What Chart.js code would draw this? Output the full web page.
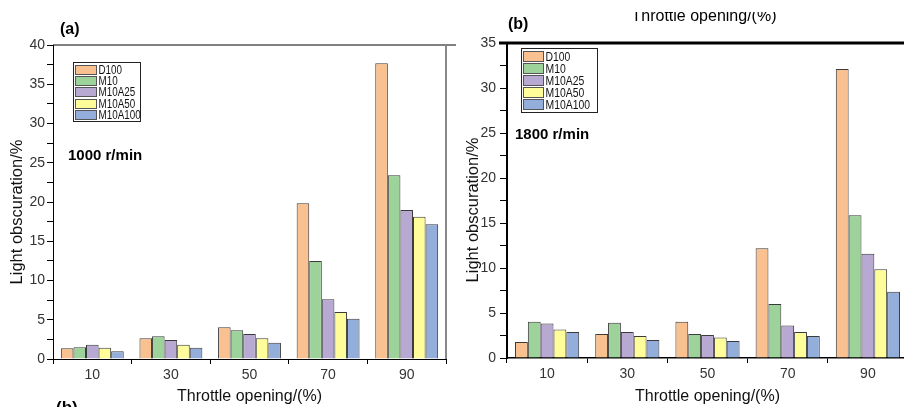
<!DOCTYPE html>
<html><head><meta charset="utf-8">
<script src="https://cdn.jsdelivr.net/npm/chart.js@4/dist/chart.umd.min.js"></script>
<style>
html,body{margin:0;padding:0;background:#fff;overflow:hidden;width:904px;height:407px;}
#ca{position:absolute;left:0;top:0;}
#cb{position:absolute;left:460px;top:0;}
</style></head><body>
<canvas id="ca" width="460" height="407"></canvas>
<canvas id="cb" width="450" height="407"></canvas>
<script>
// ---- data ----
const categories = ['10', '30', '50', '70', '90'];
const seriesNames = ['D100', 'M10', 'M10A25', 'M10A50', 'M10A100'];
const seriesColors = ['#F8C18F', '#9DD39A', '#B8A9D2', '#FEFD99', '#93AEDA'];
// (a) 1000 r/min
const d100_1000    = [1.36, 2.63, 4.03, 19.83, 37.66];
const m10_1000     = [1.49, 2.89, 3.65, 12.48, 23.40];
const m10a25_1000  = [1.83, 2.42, 3.18, 7.60, 18.98];
const m10a50_1000  = [1.44, 1.83, 2.63, 5.99, 18.13];
const m10a100_1000 = [0.98, 1.44, 2.08, 5.14, 17.15];
// (b) 1800 r/min
const d100_1800    = [1.77, 2.66, 4.03, 12.20, 32.10];
const m10_1800     = [4.03, 3.92, 2.66, 5.99, 15.85];
const m10a25_1800  = [3.84, 2.88, 2.55, 3.62, 11.57];
const m10a50_1800  = [3.18, 2.44, 2.29, 2.88, 9.87];
const m10a100_1800 = [2.88, 2.00, 1.88, 2.44, 7.35];
const yMaxA = 40, yMaxB = 35, yStep = 2.5, yLabelEvery = 5;
const xTitle = 'Throttle opening/(%)';
const yTitle = 'Light obscuration/%';

const FONT = "'Liberation Sans', Arial, sans-serif";

const framePlugin = {
  id: 'frame',
  afterDatasetsDraw(chart, args, o) {
    const a = chart.chartArea, c = chart.ctx;
    c.save();
    if (o.top) {
      c.strokeStyle = o.top.color; c.lineWidth = o.top.width;
      c.beginPath(); c.moveTo(a.left - (o.top.ext || 0), a.top); c.lineTo(a.right + 10, a.top); c.stroke();
    }
    if (o.right) {
      c.strokeStyle = o.right.color; c.lineWidth = o.right.width;
      c.beginPath(); c.moveTo(a.right, a.top); c.lineTo(a.right, a.bottom); c.stroke();
    }
    c.restore();
  }
};

const boxLegend = {
  id: 'boxLegend',
  afterDraw(chart, args, o) {
    const c = chart.ctx, a = chart.chartArea;
    const x0 = Math.round(a.left + o.dx) + 0.5, y0 = Math.round(a.top + o.dy) + 0.5;
    c.save();
    c.fillStyle = '#fff'; c.fillRect(x0, y0, o.w, o.h);
    c.strokeStyle = '#222'; c.lineWidth = 1; c.strokeRect(x0, y0, o.w, o.h);
    c.font = o.font; c.textBaseline = 'middle'; c.textAlign = 'left';
    chart.data.datasets.forEach((ds, i) => {
      const ry = Math.round(y0 + o.padTop + i * o.pitch) + 0.5;
      c.fillStyle = ds.backgroundColor;
      c.fillRect(x0 + o.swX, ry, o.swW, o.swH);
      c.strokeStyle = '#555';
      c.strokeRect(x0 + o.swX, ry, o.swW, o.swH);
      c.fillStyle = '#111';
      c.save();
      c.translate(x0 + o.textX, ry + o.swH / 2 + 0.5);
      c.scale(o.sx, 1);
      c.fillText(ds.label, 0, 0);
      c.restore();
    });
    c.restore();
  }
};

const textPlugin = {
  id: 'texts',
  afterDraw(chart, args, o) {
    const c = chart.ctx;
    (o.items || []).forEach(t => {
      c.save();
      if (t.clipTop != null) { c.beginPath(); c.rect(0, t.clipTop, chart.width, chart.height); c.clip(); }
      c.font = t.font; c.fillStyle = t.color || '#000';
      c.textAlign = t.align || 'left'; c.textBaseline = t.baseline || 'middle';
      c.translate(t.x, t.y);
      if (t.rot) c.rotate(t.rot);
      c.fillText(t.text, 0, 0);
      c.restore();
    });
  }
};

function makeDatasets(arrs) {
  return arrs.map((vals, i) => ({
    label: seriesNames[i],
    data: vals,
    backgroundColor: seriesColors[i],
    borderColor: '#3a3a3a',
    borderWidth: 1,
    categoryPercentage: 0.8,
    barPercentage: 1.0
  }));
}

function makeChart(id, cfg) {
  return new Chart(document.getElementById(id), {
    type: 'bar',
    data: { labels: categories, datasets: makeDatasets(cfg.arrs) },
    options: {
      responsive: false,
      animation: false,
      devicePixelRatio: 1,
      layout: { padding: cfg.padding },
      plugins: {
        legend: { display: false },
        tooltip: { enabled: false },
        frame: cfg.frame,
        boxLegend: cfg.legend,
        texts: { items: cfg.texts }
      },
      scales: {
        x: {
          afterFit: s => { s.height = cfg.xH; },
          grid: { offset: true, drawOnChartArea: false, tickLength: 5, color: '#000', tickWidth: 1 },
          border: { color: '#000', width: cfg.xBorder },
          ticks: { color: '#333', padding: 3, font: { family: FONT, size: 14 } },
          title: { display: true, text: xTitle, color: '#111', padding: { top: 0, bottom: 1 }, font: { family: FONT, size: 16 } }
        },
        y: {
          min: 0, max: cfg.yMax,
          afterFit: s => { s.width = cfg.yW; },
          grid: { drawOnChartArea: false, tickLength: cfg.yTick, color: '#000' },
          border: { color: '#000', width: cfg.yBorder },
          ticks: {
            stepSize: yStep, autoSkip: false, padding: cfg.yPad, color: '#333',
            font: { family: FONT, size: 14 },
            callback: v => (v % yLabelEvery === 0 ? String(v) : '')
          },
          title: { display: false, text: yTitle }
        }
      }
    },
    plugins: [framePlugin, boxLegend, textPlugin]
  });
}

makeChart('ca', {
  arrs: [d100_1000, m10_1000, m10a25_1000, m10a50_1000, m10a100_1000],
  yMax: yMaxA,
  padding: { top: 45, right: 14, left: 0, bottom: 0 },
  xH: 48, yW: 53, yTick: 6, yPad: 2, xBorder: 1, yBorder: 1,
  frame: { top: { color: '#000', width: 1 }, right: { color: '#888', width: 2 } },
  legend: { dx: 20, dy: 17, w: 67, h: 59, padTop: 2, pitch: 11.4, swX: 2, swW: 21, swH: 9, textX: 25, sx: 0.82, font: '12px ' + FONT },
  texts: [
    { text: '(a)', x: 60, y: 30, font: 'bold 16px ' + FONT },
    { text: '1000 r/min', x: 68, y: 156, font: 'bold 15px ' + FONT },
    { text: '(b)', x: 56, y: 413, font: 'bold 17px ' + FONT, baseline: 'alphabetic' },
    { text: yTitle, x: 17, y: 212, rot: -Math.PI / 2, align: 'center', font: '16.5px ' + FONT, color: '#111' }
  ]
});

makeChart('cb', {
  arrs: [d100_1800, m10_1800, m10a25_1800, m10a50_1800, m10a100_1800],
  yMax: yMaxB,
  padding: { top: 43, right: 2, left: 0, bottom: 0 },
  xH: 49, yW: 47, yTick: 7, yPad: 4, xBorder: 1.5, yBorder: 2,
  frame: { top: { color: '#000', width: 3, ext: 8 } },
  legend: { dx: 14, dy: 5, w: 76, h: 64, padTop: 2, pitch: 12.2, swX: 2, swW: 20, swH: 10, textX: 24, sx: 0.8, font: '13px ' + FONT },
  texts: [
    { text: '(b)', x: 48, y: 25, font: 'bold 16px ' + FONT },
    { text: '1800 r/min', x: 55, y: 135, font: 'bold 15px ' + FONT },
    { text: xTitle, x: 244, y: 21, font: '16px ' + FONT, align: 'center', baseline: 'alphabetic', clipTop: 12 },
    { text: yTitle, x: 13, y: 210, rot: -Math.PI / 2, align: 'center', font: '16.5px ' + FONT, color: '#111' }
  ]
});
</script>
</body></html>
